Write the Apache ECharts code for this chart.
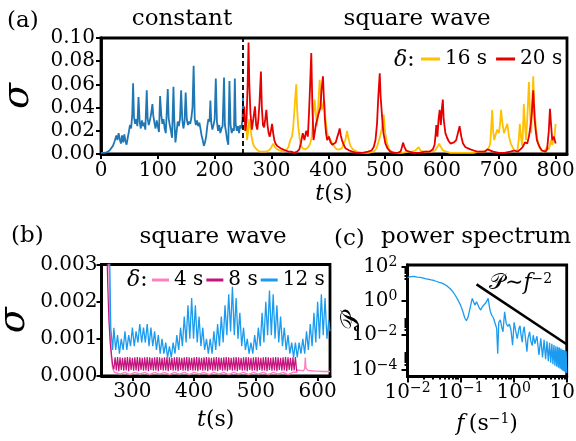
<!DOCTYPE html>
<html><head><meta charset="utf-8">
<script src="https://cdn.jsdelivr.net/npm/echarts@6/dist/echarts.min.js"></script>
<style>html,body{margin:0;padding:0;background:#fff}#c{width:576px;height:441px}</style>
</head><body><div id="c"></div>
<script>
// ---------------- DATA ----------------
// Panel (a): constant driving (t in s, sigma)
const aConstant = [[0,0.001],[5,0.001],[10,0.0015],[15,0.003],[18,0.004],[21,0.007],[24,0.011],[27,0.016],[29,0.012],[31,0.018],[33,0.013],[35,0.009],[37,0.016],[39,0.010],[41,0.017],[43,0.011],[45,0.008],[47,0.014],[49,0.019],[51,0.025],[53,0.022],[55,0.034],[56.5,0.061],[58,0.032],[60,0.026],[62,0.030],[64,0.024],[66,0.049],[68,0.028],[70,0.022],[72,0.029],[74,0.024],[76,0.027],[78,0.021],[80.5,0.055],[82,0.031],[84,0.025],[86,0.029],[88,0.034],[90.5,0.043],[92,0.033],[94,0.027],[96,0.022],[98,0.029],[100,0.024],[102,0.019],[104,0.050],[106,0.034],[108,0.026],[110,0.030],[112,0.022],[114,0.018],[117.5,0.056],[119,0.031],[121,0.025],[123,0.020],[125,0.014],[127.5,0.058],[129,0.029],[131,0.010],[133,0.019],[135,0.028],[137,0.024],[139,0.030],[141,0.055],[143,0.030],[145,0.022],[147,0.028],[149,0.053],[151,0.030],[153,0.025],[155,0.028],[157,0.026],[159,0.031],[161,0.040],[163,0.076],[165,0.030],[167,0.025],[169,0.029],[171,0.024],[173,0.027],[175,0.022],[177,0.016],[179,0.012],[181,0.007],[183,0.010],[185,0.015],[187,0.024],[189,0.030],[191,0.028],[192.5,0.046],[194,0.027],[196,0.021],[198,0.025],[200,0.030],[202,0.065],[204,0.028],[206,0.020],[208,0.025],[210,0.018],[212,0.022],[214,0.024],[216.5,0.066],[218,0.025],[220,0.019],[222,0.012],[224,0.008],[226,0.063],[228,0.025],[230,0.018],[232,0.022],[234,0.020],[235.5,0.065],[237,0.026],[239,0.020],[241,0.024],[243,0.018],[245,0.025],[247,0.022],[249,0.030],[250,0.050]];
// Panel (a): square wave, delta = 16 s
const aSq16 = [[250,0.028],[252,0.031],[254,0.020],[256,0.025],[257,0.012],[259,0.020],[261,0.030],[263,0.022],[265,0.015],[267,0.010],[269,0.007],[272,0.005],[276,0.003],[280,0.002],[285,0.002],[290,0.002],[295,0.003],[299,0.005],[303,0.009],[306,0.006],[310,0.004],[315,0.003],[320,0.002],[325,0.003],[330,0.006],[333,0.012],[336,0.015],[338,0.022],[340,0.035],[342,0.050],[343.6,0.060],[345,0.040],[347,0.024],[350,0.012],[352,0.007],[355,0.005],[359,0.004],[363,0.005],[366,0.007],[368,0.009],[371,0.015],[373,0.030],[376,0.047],[378,0.035],[380,0.024],[382,0.040],[384.8,0.064],[387,0.050],[389,0.038],[391,0.042],[393,0.046],[395,0.030],[398,0.018],[401,0.014],[404,0.012],[407,0.009],[411,0.006],[415,0.004],[420,0.004],[424,0.005],[427,0.006],[430,0.012],[433,0.020],[436,0.012],[439,0.007],[443,0.004],[447,0.003],[451,0.002],[460,0.001],[470,0.001],[480,0.002],[485,0.005],[488,0.010],[491,0.015],[494,0.022],[497.5,0.034],[500,0.018],[503.5,0.009],[507,0.004],[512,0.002],[520,0.001],[530,0.001],[540,0.002],[548,0.002],[553,0.003],[556,0.004],[559,0.006],[562,0.003],[567,0.002],[575,0.002],[582,0.002],[588,0.003],[592,0.006],[595,0.009],[598,0.006],[602,0.003],[607,0.002],[615,0.001],[625,0.001],[635,0.001],[645,0.001],[655,0.001],[665,0.002],[672,0.002],[678,0.003],[682,0.005],[685,0.009],[688.4,0.038],[690,0.020],[692,0.012],[694,0.016],[697,0.021],[700,0.018],[702,0.025],[704,0.038],[706,0.028],[709,0.018],[712,0.022],[715,0.026],[718,0.015],[721,0.009],[725,0.005],[730,0.002],[733,0.004],[735,0.012],[737,0.026],[739,0.015],[741,0.007],[742.5,0.020],[744,0.043],[746,0.025],[748,0.012],[750,0.030],[753,0.062],[755,0.035],[757,0.018],[758.5,0.040],[760.6,0.067],[762,0.045],[765,0.024],[768,0.012],[771,0.006],[775,0.003],[779,0.002],[782,0.003],[785,0.006],[788,0.004],[790,0.008],[792,0.012],[794,0.008],[796,0.009],[798,0.015],[800,0.026]];
// Panel (a): square wave, delta = 20 s
const aSq20 = [[250,0.030],[252,0.041],[254,0.020],[256,0.028],[258,0.060],[259.6,0.096],[261,0.060],[263,0.035],[265.5,0.021],[268,0.030],[271,0.041],[273,0.025],[275,0.021],[277,0.030],[279,0.045],[281.4,0.071],[283,0.040],[285,0.025],[287,0.023],[289,0.030],[291,0.038],[293,0.025],[295,0.018],[297,0.015],[299,0.020],[301,0.026],[303,0.018],[305,0.012],[307,0.009],[310,0.007],[313,0.006],[316,0.005],[320,0.004],[325,0.003],[330,0.002],[335,0.002],[340,0.001],[345,0.002],[349,0.004],[352,0.010],[355,0.018],[358,0.012],[361,0.020],[364,0.015],[366,0.035],[368,0.060],[370,0.087],[372,0.040],[374,0.012],[376,0.018],[378,0.025],[380,0.029],[383,0.035],[386,0.040],[388,0.055],[390.6,0.067],[392,0.050],[394,0.030],[396,0.018],[398,0.012],[401,0.015],[404,0.010],[407,0.008],[410,0.007],[413,0.010],[416,0.015],[418,0.018],[420,0.022],[422,0.016],[424,0.012],[427,0.008],[430,0.005],[433,0.004],[437,0.003],[442,0.002],[450,0.001],[460,0.001],[470,0.002],[476,0.003],[480,0.006],[483,0.012],[485.7,0.026],[488,0.050],[490.5,0.0695],[492,0.050],[494.6,0.032],[497,0.018],[500.5,0.009],[504,0.005],[509,0.002],[515,0.001],[522,0.001],[527,0.002],[529,0.005],[531.5,0.0098],[534,0.006],[537,0.003],[542,0.002],[550,0.001],[560,0.001],[570,0.002],[578,0.002],[584,0.004],[587,0.008],[589,0.018],[590,0.025],[592,0.015],[594,0.030],[596,0.038],[598,0.025],[600,0.040],[601.5,0.047],[603,0.030],[606,0.018],[609,0.014],[612,0.011],[615,0.009],[618,0.008],[621,0.010],[625,0.012],[628,0.018],[631,0.024],[634,0.015],[637,0.009],[641,0.006],[645,0.005],[650,0.004],[656,0.003],[662,0.002],[668,0.002],[675,0.002],[680,0.004],[683,0.003],[690,0.002],[700,0.001],[710,0.001],[720,0.002],[727,0.003],[733,0.002],[738,0.004],[742,0.006],[746,0.010],[750,0.009],[753,0.015],[756,0.025],[758,0.035],[760.6,0.055],[763,0.030],[765,0.020],[767,0.012],[770,0.008],[773,0.005],[776,0.003],[779,0.002],[782,0.002],[785,0.004],[788,0.020],[790,0.039],[792,0.025],[794,0.012],[797,0.015],[800,0.009]];
const aSwitchTime = 250;

// Panel (b): square wave, delta = 4 s, 8 s, 12 s
const bSq4 = [[250,0.006],[259,0.0055],[262,0.003],[264,0.0012],[266,0.0005],[268,0.0002],[271,0.0001],[280,0.00005],[288,0.0001],[296,0.00004],[304,0.0001],[312,0.00005],[320,0.0001],[328,0.00004],[336,0.0001],[344,0.00005],[352,0.0001],[360,0.00004],[368,0.0001],[376,0.00005],[384,0.0001],[392,0.00004],[400,0.0001],[408,0.00005],[416,0.0001],[424,0.00004],[432,0.0001],[440,0.00005],[448,0.0001],[456,0.00004],[464,0.0001],[472,0.00005],[480,0.0001],[488,0.00004],[496,0.0001],[504,0.00005],[512,0.0001],[520,0.00004],[528,0.0001],[536,0.00005],[544,0.0001],[552,0.00004],[560,0.0001],[566,0.0001],[567,0.00016],[572,0.00015],[577,0.00014],[579,0.0002],[580,0.0005],[581,0.00022],[584,0.00015],[590,0.00014],[596,0.00013],[602,0.00013],[608,0.00012],[614,0.00012],[620,0.00012]];
const bSq8 = [[250,0.006],[256,0.0055],[258,0.004],[260,0.0025],[262,0.0015],[264,0.0009],[266,0.0006],[268,0.0003],[270,0.00018],
[272,5.0e-4],[274,1.5e-4],[276,5.1e-4],[278,1.3e-4],[280,5.0e-4],[282,1.6e-4],[284,4.9e-4],[286,1.4e-4],
[288,5.0e-4],[290,1.5e-4],[292,5.1e-4],[294,1.3e-4],[296,5.0e-4],[298,1.6e-4],[300,4.9e-4],[302,1.4e-4],
[304,5.0e-4],[306,1.5e-4],[308,5.1e-4],[310,1.3e-4],[312,5.0e-4],[314,1.6e-4],[316,4.9e-4],[318,1.4e-4],
[320,5.0e-4],[322,1.5e-4],[324,5.1e-4],[326,1.3e-4],[328,5.0e-4],[330,1.6e-4],[332,4.9e-4],[334,1.4e-4],
[336,5.0e-4],[338,1.5e-4],[340,5.1e-4],[342,1.3e-4],[344,5.0e-4],[346,1.6e-4],[348,4.9e-4],[350,1.4e-4],
[352,5.0e-4],[354,1.5e-4],[356,5.1e-4],[358,1.3e-4],[360,5.0e-4],[362,1.6e-4],[364,4.9e-4],[366,1.4e-4],
[368,5.0e-4],[370,1.5e-4],[372,5.1e-4],[374,1.3e-4],[376,5.0e-4],[378,1.6e-4],[380,4.9e-4],[382,1.4e-4],
[384,5.0e-4],[386,1.5e-4],[388,5.1e-4],[390,1.3e-4],[392,5.0e-4],[394,1.6e-4],[396,4.9e-4],[398,1.4e-4],
[400,5.0e-4],[402,1.5e-4],[404,5.1e-4],[406,1.3e-4],[408,5.0e-4],[410,1.6e-4],[412,4.9e-4],[414,1.4e-4],
[416,5.0e-4],[418,1.5e-4],[420,5.1e-4],[422,1.3e-4],[424,5.0e-4],[426,1.6e-4],[428,4.9e-4],[430,1.4e-4],
[432,5.0e-4],[434,1.5e-4],[436,5.1e-4],[438,1.3e-4],[440,5.0e-4],[442,1.6e-4],[444,4.9e-4],[446,1.4e-4],
[448,5.0e-4],[450,1.5e-4],[452,5.1e-4],[454,1.3e-4],[456,5.0e-4],[458,1.6e-4],[460,4.9e-4],[462,1.4e-4],
[464,5.0e-4],[466,1.5e-4],[468,5.1e-4],[470,1.3e-4],[472,5.0e-4],[474,1.6e-4],[476,4.9e-4],[478,1.4e-4],
[480,5.0e-4],[482,1.5e-4],[484,5.1e-4],[486,1.3e-4],[488,5.0e-4],[490,1.6e-4],[492,4.9e-4],[494,1.4e-4],
[496,5.0e-4],[498,1.5e-4],[500,5.1e-4],[502,1.3e-4],[504,5.0e-4],[506,1.6e-4],[508,4.9e-4],[510,1.4e-4],
[512,5.0e-4],[514,1.5e-4],[516,5.1e-4],[518,1.3e-4],[520,5.0e-4],[522,1.6e-4],[524,4.9e-4],[526,1.4e-4],
[528,5.0e-4],[530,1.5e-4],[532,5.1e-4],[534,1.3e-4],[536,5.0e-4],[538,1.6e-4],[540,4.9e-4],[542,1.4e-4],
[544,5.0e-4],[546,1.5e-4],[548,5.1e-4],[550,1.3e-4],[552,5.0e-4],[554,1.6e-4],[556,4.9e-4],[558,1.4e-4],
[560,5.0e-4],[562,1.5e-4],[564,5.1e-4],[566,1.3e-4]];
const bSq12 = [[250,0.006],[258,0.006],[262,0.0045],[265,0.0013],[268,0.0007],
[270,0.0013],[273,0.0007],[276,0.0011],[279,0.0006],[282,0.0010],[285,0.0007],[288,0.0012],[291,0.0007],[294,0.0011],[297,0.0008],
[300,0.0013],[303,0.0008],[306,0.0012],[309,0.0009],[312,0.0014],[315,0.0009],[318,0.0013],[321,0.0009],[324,0.0014],[327,0.0008],
[330,0.0013],[333,0.0008],[336,0.0012],[339,0.0007],[342,0.0011],[345,0.0006],[348,0.0010],[351,0.0006],[354,0.0009],[357,0.0005],
[360,0.0008],[363,0.0005],[366,0.0009],[369,0.0006],[372,0.0011],[375,0.0007],[378,0.0013],[381,0.0008],[384,0.0016],[387,0.0009],
[390,0.0019],[393,0.0010],[396,0.0021],[399,0.0010],[402,0.0019],[405,0.0009],[408,0.0016],[411,0.0008],[414,0.0013],[417,0.0007],
[420,0.0010],[423,0.0006],[426,0.0010],[429,0.0006],[432,0.0012],[435,0.0007],[438,0.0014],[441,0.0008],[444,0.0016],[447,0.0009],
[450,0.0019],[453,0.0011],[456,0.0022],[459,0.0012],[462,0.0024],[465,0.0011],[468,0.0021],[471,0.0010],[474,0.0017],[477,0.0008],
[480,0.0013],[483,0.0007],[486,0.0010],[489,0.0006],[492,0.0009],[495,0.0006],[498,0.0011],[501,0.0007],[504,0.0013],[507,0.0008],
[510,0.0017],[513,0.0009],[516,0.0020],[519,0.0011],[522,0.0023],[525,0.0011],[528,0.0022],[531,0.0010],[534,0.0019],[537,0.0009],
[540,0.0016],[543,0.0008],[546,0.0013],[549,0.0007],[552,0.0011],[555,0.0006],[558,0.0009],[561,0.0005],[564,0.0009],[567,0.0005],
[570,0.0009],[573,0.0006],[576,0.0010],[579,0.0006],[582,0.0012],[585,0.0007],[588,0.0014],[591,0.0008],[594,0.0017],[597,0.0009],
[600,0.0020],[603,0.0010],[606,0.0022],[609,0.0011],[612,0.0021],[615,0.0010],[618,0.0015],[620,0.0012]];

// Panel (c): power spectrum (f in 1/s, P)
const cSpectrum = [[0.0100,22],[0.0107,18],[0.0115,25],[0.0123,20],[0.0132,26],[0.0141,21],[0.0151,24],[0.0162,20],[0.0174,23],[0.0186,19],[0.0200,21],[0.0224,18.6],[0.0251,17.8],[0.0282,16.2],[0.0316,15.1],[0.0355,13.2],[0.0398,11.7],[0.0447,10.5],[0.0501,8.9],[0.0562,7.1],[0.0631,5.2],[0.0708,3.5],[0.0794,2.1],[0.0891,1.12],[0.100,0.56],[0.110,0.25],[0.120,0.10],[0.129,0.069],[0.138,0.11],[0.148,0.28],[0.158,0.71],[0.166,1.38],[0.178,0.79],[0.186,0.56],[0.200,0.89],[0.209,0.79],[0.224,0.40],[0.240,0.29],[0.257,0.45],[0.275,0.56],[0.302,0.79],[0.331,1.38],[0.347,0.50],[0.363,0.25],[0.389,0.14],[0.417,0.10],[0.447,0.05],[0.479,0.025],[0.501,0.00085],[0.525,0.056],[0.562,0.079],[0.603,0.025],[0.631,0.016],[0.676,0.23],[0.724,0.050],[0.776,0.032],[0.832,0.045],[0.891,0.020],[0.955,0.0026],[1.02,0.056],[1.10,0.016],[1.17,0.0063],[1.26,0.025],[1.32,0.035],[1.38,0.010],[1.45,0.0040],[1.51,0.016],[1.58,0.032],[1.66,0.0079],[1.78,0.0011],[1.86,0.0063],[2.0,0.016],[2.09,0.005],[2.24,0.0025],[2.34,0.010],[2.51,0.0032],[2.75,0.0087],[3.0,0.00071],[3.25,0.0066],[3.5,0.00051],[3.75,0.0054],[4.0,0.0004],[4.25,0.0044],[4.5,0.00031],[4.75,0.0036],[5.0,0.00025],[5.25,0.0032],[5.5,0.00021],[5.75,0.0027],[6.0,0.00017],[6.25,0.0023],[6.5,0.000148],[6.75,0.0021],[7.0,0.000129],[7.25,0.0019],[7.5,0.000112],[7.75,0.0017],[8.0,0.000098],[8.25,0.0015],[8.5,0.000087],[8.75,0.00138],[9.0,0.000078],[9.25,0.00129],[9.5,0.000069],[9.75,0.00117],[10.0,0.000063]];
const cPowerLaw = [[0.2,9.0],[9.8,0.0031]];

// Tick values
const aXTicks = [0,100,200,300,400,500,600,700,800];
const aYTicks = [0,0.02,0.04,0.06,0.08,0.10];
const bXTicks = [300,400,500,600];
const bYTicks = [0,0.001,0.002,0.003];
const cXTicks = [0.01,0.1,1,10];
const cYTicks = [1e-4,1e-2,1,100];
const cXMinor = [0.02,0.03,0.04,0.05,0.06,0.07,0.08,0.09,0.2,0.3,0.4,0.5,0.6,0.7,0.8,0.9,2,3,4,5,6,7,8,9];
const cYMinor = [20,30,40,50,60,70,80,90,0.02,0.03,0.04,0.05,0.06,0.07,0.08,0.09,0.0002,0.0003,0.0004,0.0005,0.0006,0.0007,0.0008,0.0009];

// ---------------- STYLE ----------------
const FONT = '"DejaVu Serif",serif';
const C = {blue:'#1f77b4', yellow:'#FFC000', red:'#E60000', pink:'#FF80C0', magenta:'#C4137C', lblue:'#1A9BF0'};
const axisLine = {show:true, onZero:false, lineStyle:{color:'#000', width:2.8}};
const tick = (vals, len) => ({show:true, inside:false, length:len||5, customValues:vals, lineStyle:{color:'#000', width:2}});
const lab = (vals, fmt, extra) => Object.assign({show:true, customValues:vals, fontFamily:FONT, fontSize:20, color:'#000', margin:6, formatter:fmt}, extra||{});
const supRich = {
  s:{fontFamily:FONT, fontSize:14, color:'#000', verticalAlign:'top', lineHeight:12},
  i:{fontFamily:FONT, fontStyle:'italic', fontSize:22, color:'#000'}
};
const nameStyle = {fontFamily:FONT, fontSize:22, color:'#000', rich:supRich, lineHeight:24};
const powLabel = v => { const e = Math.round(Math.log10(v)); return '10{s|' + (e < 0 ? '\u2212' + (-e) : e) + '}'; };
const gridBox = {show:true, borderColor:'#000', borderWidth:2.8, backgroundColor:'rgba(0,0,0,0)', containLabel:false, outerBoundsMode:'none'};
const titleStyle = {fontFamily:FONT, fontSize:23, fill:'#000', verticalAlign:'middle'};

const option = {
  animation:false,
  backgroundColor:'#fff',
  textStyle:{fontFamily:FONT},
  grid:[
    Object.assign({left:101, top:38, width:466, height:116}, gridBox),
    Object.assign({left:101.5, top:264.5, width:228.5, height:111.5}, gridBox),
    Object.assign({left:407.5, top:265, width:159.2, height:111.5}, gridBox)
  ],
  xAxis:[
    {gridIndex:0, type:'value', min:0, max:820, axisLine, axisTick:tick(aXTicks), splitLine:{show:false},
     axisLabel:lab(aXTicks, v=>String(v), {margin:7}), name:'{i|t}(s)', nameLocation:'middle', nameGap:28, nameTextStyle:nameStyle},
    {gridIndex:1, type:'value', min:250, max:620, axisLine, axisTick:tick(bXTicks), splitLine:{show:false},
     axisLabel:lab(bXTicks, v=>String(v), {margin:6}), name:'{i|t}(s)', nameLocation:'middle', nameGap:32, nameTextStyle:nameStyle},
    {gridIndex:2, type:'log', logBase:10, min:0.01, max:10, axisLine, axisTick:tick(cXTicks,6), splitLine:{show:false},
     axisLabel:lab(cXTicks, powLabel, {rich:supRich, lineHeight:22, margin:5}), name:'{i|f}\u2009(s{s|\u22121})', nameLocation:'middle', nameGap:36, nameTextStyle:nameStyle},
    {gridIndex:2, type:'log', logBase:10, min:0.01, max:10, position:'bottom', offset:0, axisLine:{show:false}, axisTick:tick(cXMinor,3), axisLabel:{show:false}, splitLine:{show:false}}
  ],
  yAxis:[
    {gridIndex:0, type:'value', min:0, max:0.1, axisLine, axisTick:tick(aYTicks), splitLine:{show:false},
     axisLabel:lab(aYTicks, v=>v.toFixed(2), {margin:6}), name:'\u03c3', nameLocation:'middle', nameGap:64, nameRotate:90,
     nameTextStyle:{fontFamily:FONT, fontStyle:'italic', fontSize:38, color:'#000'}},
    {gridIndex:1, type:'value', min:0, max:0.003, axisLine, axisTick:tick(bYTicks), splitLine:{show:false},
     axisLabel:lab(bYTicks, v=>v.toFixed(3), {margin:4}), name:'\u03c3', nameLocation:'middle', nameGap:68, nameRotate:90,
     nameTextStyle:{fontFamily:FONT, fontStyle:'italic', fontSize:38, color:'#000'}},
    {gridIndex:2, type:'log', logBase:10, min:4e-5, max:120, axisLine, axisTick:tick(cYTicks,6), splitLine:{show:false},
     axisLabel:lab(cYTicks, powLabel, {rich:supRich, lineHeight:22, margin:10})},
    {gridIndex:2, type:'log', logBase:10, min:4e-5, max:120, position:'left', offset:0, axisLine:{show:false}, axisTick:tick(cYMinor,3), axisLabel:{show:false}, splitLine:{show:false}}
  ],
  legend:[
    {data:['16 s','20 s'], left:421, top:49, icon:'rect', itemWidth:19, itemHeight:3, itemGap:9, padding:0,
     textStyle:{fontFamily:FONT, fontSize:20, color:'#000'}},
    {data:['4 s','8 s','12 s'], left:152, top:270, icon:'rect', itemWidth:17, itemHeight:3, itemGap:3, padding:0,
     textStyle:{fontFamily:FONT, fontSize:20, color:'#000'}}
  ],
  graphic:[
    {type:'text', x:7, y:21, style:Object.assign({text:'(a)'}, titleStyle)},
    {type:'text', x:182, y:19, style:Object.assign({text:'constant', align:'center'}, titleStyle)},
    {type:'text', x:417, y:19, style:Object.assign({text:'square wave', align:'center'}, titleStyle)},
    {type:'text', x:394, y:60, style:{text:'{i|\u03b4}:', rich:supRich, fontFamily:FONT, fontSize:22, fill:'#000', verticalAlign:'middle'}},
    {type:'text', x:11, y:236, style:Object.assign({text:'(b)'}, titleStyle)},
    {type:'text', x:213, y:237, style:Object.assign({text:'square wave', align:'center'}, titleStyle)},
    {type:'text', x:127, y:280, style:{text:'{i|\u03b4}:', rich:supRich, fontFamily:FONT, fontSize:22, fill:'#000', verticalAlign:'middle'}},
    {type:'text', x:334, y:239, style:Object.assign({text:'(c)'}, titleStyle)},
    {type:'text', x:476, y:237, style:Object.assign({text:'power spectrum', align:'center'}, titleStyle)},
    {type:'text', x:352, y:321, rotation:Math.PI/2, style:{text:'\ud835\udcab', fontFamily:'"DejaVu Sans","DejaVu Serif",serif', fontSize:26, fill:'#000', align:'center', verticalAlign:'middle'}},
    {type:'text', x:489, y:283, style:{text:'\ud835\udcab\u223c{i|f}{s|\u22122}', rich:supRich, fontFamily:FONT, fontSize:22, fill:'#000', verticalAlign:'middle'}}
  ],
  series:[
    {type:'line', name:'constant', xAxisIndex:0, yAxisIndex:0, data:aConstant, showSymbol:false, color:C.blue, lineStyle:{width:1.8},
     markLine:{silent:true, symbol:['none','none'], label:{show:false}, lineStyle:{type:[5,3], color:'#000', width:1.8}, data:[{xAxis:aSwitchTime}]}},
    {type:'line', name:'16 s', xAxisIndex:0, yAxisIndex:0, data:aSq16, showSymbol:false, color:C.yellow, lineStyle:{width:1.8}},
    {type:'line', name:'20 s', xAxisIndex:0, yAxisIndex:0, data:aSq20, showSymbol:false, color:C.red, lineStyle:{width:1.8}},
    {type:'line', name:'4 s', xAxisIndex:1, yAxisIndex:1, data:bSq4, showSymbol:false, color:C.pink, lineStyle:{width:1.4}},
    {type:'line', name:'8 s', xAxisIndex:1, yAxisIndex:1, data:bSq8, showSymbol:false, color:C.magenta, lineStyle:{width:1.2}},
    {type:'line', name:'12 s', xAxisIndex:1, yAxisIndex:1, data:bSq12, showSymbol:false, color:C.lblue, lineStyle:{width:1.3}},
    {type:'line', name:'spectrum', xAxisIndex:2, yAxisIndex:2, data:cSpectrum, showSymbol:false, color:C.lblue, lineStyle:{width:1.3}},
    {type:'line', name:'power law', xAxisIndex:2, yAxisIndex:2, data:cPowerLaw, showSymbol:false, color:'#000', lineStyle:{width:2.5}}
  ]
};
const chart = echarts.init(document.getElementById('c'));
chart.setOption(option);
</script></body></html>
